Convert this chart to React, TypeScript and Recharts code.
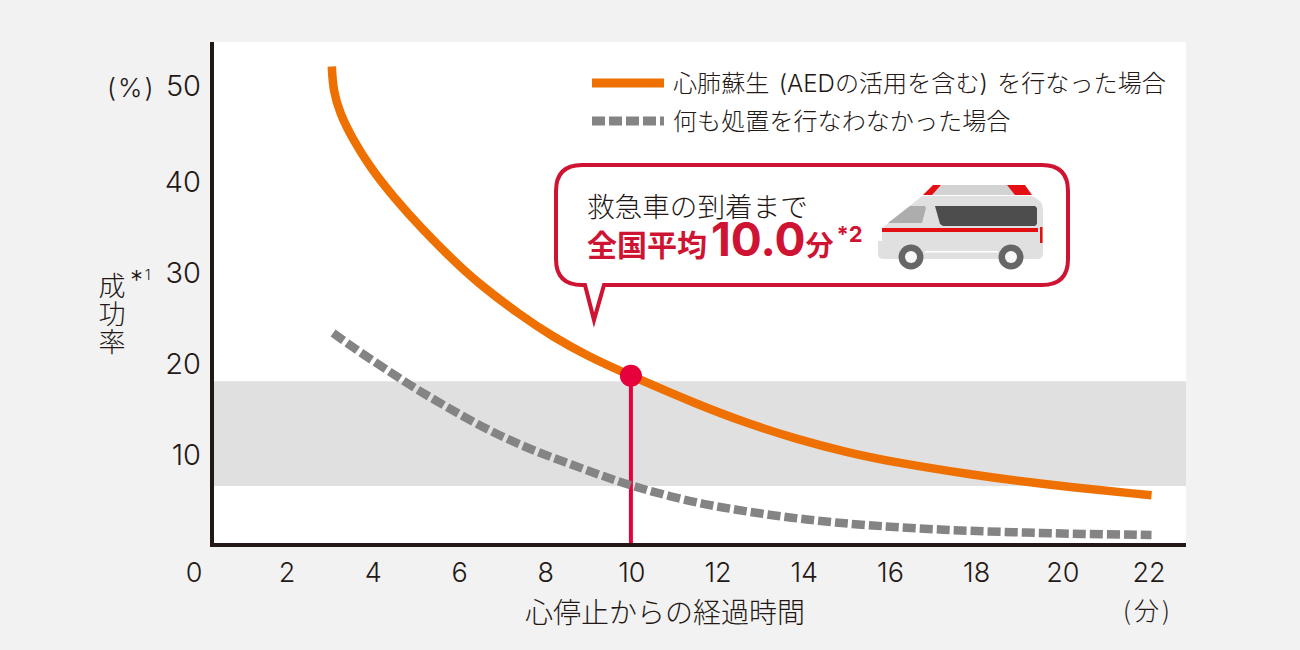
import React from 'react';
import {
  ComposedChart, Line, XAxis, YAxis, ReferenceArea, ReferenceDot, CartesianGrid, Legend, Label,
} from 'recharts';

const aedMinutes = [3.06, 3.09, 3.25, 3.56, 3.94, 4.48, 5.18, 5.88, 6.4, 7.42, 8.19, 8.98, 10, 11.52, 12.68, 13.84, 15, 16.16, 17.87, 19.41, 22.08];
const aedRates = [52.6, 50, 47.4, 44.5, 41.6, 38.3, 34.6, 31.3, 29, 25.3, 22.9, 20.8, 18.6, 15.5, 13.4, 11.65, 10.2, 9.05, 7.75, 6.75, 5.46];
const noneMinutes = [3.09, 3.71, 4.37, 5.03, 5.72, 6.42, 7.15, 7.89, 8.62, 9.36, 10.09, 10.9, 11.72, 12.48, 13.29, 14.08, 14.89, 15.7, 17.24, 18.86, 20.49, 22.08];
const noneRates = [23.3, 21.2, 19.15, 17.1, 15.2, 13.3, 11.6, 10.1, 8.85, 7.55, 6.4, 5.35, 4.45, 3.85, 3.25, 2.8, 2.4, 2.1, 1.65, 1.4, 1.2, 1.1];
const xTicks = [2, 4, 6, 8, 10, 12, 14, 16, 18, 20, 22];
const yTicks = [10, 20, 30, 40, 50];
const bandRange = [6.5, 18];
const arrivalMinute = 10;
const arrivalRate = 18.6;

const INK = '#231815';
const RED = '#cf1433';
const JP = '"Noto Sans CJK JP", sans-serif';
const NUM = 'Inter, sans-serif';

const aedData = aedMinutes.map((m, i) => ({ m, v: aedRates[i] }));
const noneData = noneMinutes.map((m, i) => ({ m, v: noneRates[i] }));
const arrivalData = [{ m: arrivalMinute, v: 0 }, { m: arrivalMinute, v: arrivalRate }];

const YTick = ({ y, payload }: any) => (
  <text
    x={201}
    y={y + (payload.value === 50 ? -5 : 0)}
    dy={10.5}
    textAnchor="end"
    fontFamily={NUM}
    fontWeight={300}
    fontSize={29}
    fill={INK}
  >
    {payload.value}
  </text>
);

const LegendRows = ({ payload }: any) => (
  <div style={{ fontFamily: `Inter, ${JP}`, fontWeight: 300, fontSize: 24.1, wordSpacing: 2.5, color: INK, whiteSpace: 'nowrap' }}>
    {(payload || []).filter((p: any) => p.type !== 'none').map((p: any) => (
      <div key={p.value} style={{ display: 'flex', alignItems: 'center', height: 38 }}>
        <svg width={72} height={10} style={{ marginRight: 9 }}>
          <line x1={0} x2={72} y1={5} y2={5} stroke={p.color} strokeWidth={9} strokeDasharray={p.payload?.strokeDasharray} />
        </svg>
        <span style={{ position: 'relative', top: -1.5 }}>{p.value}</span>
      </div>
    ))}
  </div>
);

// 吹き出しと救急車のイラスト
const Callout = () => (
  <g>
    <path
      d="M585 285 H582 Q556 285 556 259 V191 Q556 165 582 165 H1042 Q1068 165 1068 191 V259 Q1068 285 1042 285 H604 L594 320 Z"
      fill="#fff"
      stroke={RED}
      strokeWidth={4}
      strokeLinejoin="miter"
    />
    <text x={587} y={217} fontFamily={JP} fontWeight={300} fontSize={27.6} fill={INK}>救急車の到着まで</text>
    <text x={587} y={256} fontFamily={JP} fontWeight={700} fill={RED} fontSize={30}>
      全国平均
      <tspan fontFamily={NUM} fontSize={46} fontWeight={700} dx={4}>10.0</tspan>
      <tspan fontSize={28}>分</tspan>
      <tspan fontFamily={NUM} fontSize={22} dx={3} dy={-14}>*2</tspan>
    </text>
    <polygon points="923,195 942,185 1007,185 1032,195" fill="#d2d2d2" />
    <polygon points="923,195 933,185 941,185 932,195" fill="#e30f12" />
    <polygon points="1007,185 1025,185 1032,195 1015,195" fill="#e30f12" />
    <path
      d="M922 196 H1032 Q1043 200 1043 210 V253 Q1043 259 1037 259 H884 Q878 259 878 254 V241 H882 V228 Z"
      fill="#e0e0e0"
    />
    <polygon points="910,206 925,206 926,208 922,223 888,223" fill="#adadad" />
    <polygon points="935,206 1035,206 1037,208 1037,224 1035,226 943,226 940,224" fill="#4d4d4d" />
    <rect x={882} y={228} width={156} height={4} fill="#e30f12" />
    <rect x={1040} y={227} width={2.5} height={16} fill="#e30f12" />
    <rect x={925} y={251} width={73} height={1.5} fill="#fff" />
    {[911, 1011].map((cx) => (
      <g key={cx}>
        <circle cx={cx} cy={257} r={12.5} fill="#666" />
        <circle cx={cx} cy={257} r={6} fill="#f7f7f7" />
      </g>
    ))}
  </g>
);

const AxisNotes = () => (
  <g fill={INK} fontFamily={JP} fontWeight={300}>
    <rect x={210} y={543} width={4} height={4} fill={INK} />
    <text x={107} y={97} fontFamily={NUM} fontSize={26} letterSpacing={2}>(%)</text>
    <text x={194} y={582} textAnchor="middle" fontFamily={NUM} fontSize={27}>0</text>
    <text x={112} y={272} fontSize={27} letterSpacing={1} style={{ writingMode: 'vertical-rl', textOrientation: 'upright' }}>成功率</text>
    <text x={130} y={289} fontFamily={NUM} fontSize={26}>*</text>
    <text x={145} y={280} fontFamily={NUM} fontSize={14}>1</text>
    <text x={1148} y={620} textAnchor="middle" fontSize={25} letterSpacing={3}>(分)</text>
  </g>
);

export default function App() {
  return (
    <div style={{ position: 'absolute', left: 0, top: 0, width: 1300, height: 650, background: '#f2f2f2' }}>
      <ComposedChart
        width={1300}
        height={650}
        margin={{ top: 42, right: 114, bottom: 75, left: 152 }}
      >
        <CartesianGrid horizontal={false} vertical={false} fill="#fff" />
        <ReferenceArea x1={0.28} x2={22.88} y1={bandRange[0]} y2={bandRange[1]} fill="#e0e0e0" fillOpacity={1} stroke="none" />
        <XAxis
          type="number"
          dataKey="m"
          domain={[0.28, 22.88]}
          ticks={xTicks}
          height={30}
          interval={0}
          allowDataOverflow
          tickLine={false}
          axisLine={{ stroke: INK, strokeWidth: 4 }}
          tick={{ fill: INK, fontSize: 27, fontFamily: NUM, fontWeight: 300, dy: 10, dx: 1 }}
        >
          <Label
            value="心停止からの経過時間"
            position="insideBottom"
            offset={-48}
            dx={-34}
            style={{ fontFamily: JP, fontWeight: 300, fontSize: 28, fill: INK }}
          />
        </XAxis>
        <YAxis
          type="number"
          domain={[0, 55.3]}
          ticks={yTicks}
          width={60}
          interval={0}
          allowDataOverflow
          tickLine={false}
          axisLine={{ stroke: INK, strokeWidth: 4 }}
          tick={<YTick />}
        />
        <Legend
          layout="horizontal"
          verticalAlign="middle"
          align="center"
          itemSorter={null}
          content={<LegendRows />}
          wrapperStyle={{ left: 592, top: 64, width: 600 }}
        />
        <Line
          data={aedData}
          dataKey="v"
          name="心肺蘇生 (AEDの活用を含む) を行なった場合"
          type="basis"
          stroke="#ee7000"
          strokeWidth={8.5}
          dot={false}
          isAnimationActive={false}
        />
        <Line
          data={arrivalData}
          dataKey="v"
          name="到着"
          legendType="none"
          type="linear"
          stroke="#e6003c"
          strokeWidth={4}
          dot={false}
          isAnimationActive={false}
        />
        <Line
          data={noneData}
          dataKey="v"
          name="何も処置を行なわなかった場合"
          type="basis"
          stroke="#848484"
          strokeWidth={8.5}
          strokeDasharray="13 4"
          dot={false}
          isAnimationActive={false}
        />
        <ReferenceDot x={arrivalMinute} y={arrivalRate} r={11} fill="#e6003c" stroke="none" />
        <Callout />
        <AxisNotes />
      </ComposedChart>
    </div>
  );
}
